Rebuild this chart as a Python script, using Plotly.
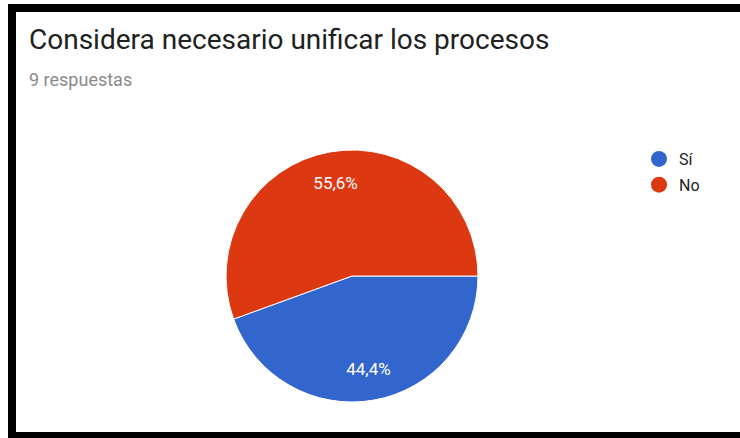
import plotly.graph_objects as go

labels = ["Sí", "No"]
values = [4, 5]
colors = ["#3366cc", "#dc3912"]
title_text = "Considera necesario unificar los procesos"
subtitle_text = "9 respuestas"

W, H = 740, 438
dom = dict(x=[226 / W, 478 / W], y=[1 - 402 / H, 1 - 150 / H])

fig = go.Figure()
# coloured pie (no text)
fig.add_trace(go.Pie(
    labels=labels, values=values, sort=False, direction="clockwise", rotation=90,
    marker=dict(colors=colors, line=dict(color="white", width=1)),
    textinfo="none", showlegend=False, hoverinfo="skip", domain=dom,
))
# transparent ring used only to position the percentage labels
fig.add_trace(go.Pie(
    labels=labels, values=values, sort=False, direction="clockwise", rotation=90,
    hole=0.5,
    marker=dict(colors=["rgba(0,0,0,0)"] * len(values), line=dict(width=0)),
    texttemplate="%{percent:.1%}", textposition="inside",
    insidetextorientation="horizontal",
    textfont=dict(family="Roboto, Arial", size=17, color="white"),
    showlegend=False, hoverinfo="skip", domain=dom,
))
for lab, col in zip(labels, colors):
    fig.add_trace(go.Scatter(
        x=[None], y=[None], mode="markers", name=lab, legendgroup=lab,
        marker=dict(symbol="circle", size=16, color=col),
    ))

shapes = []
def px_rect(x0, y0, x1, y1, color):
    shapes.append(dict(type="rect", xref="paper", yref="paper",
                       x0=x0 / W, x1=x1 / W, y0=1 - y1 / H, y1=1 - y0 / H,
                       fillcolor=color, line=dict(width=0), layer="above"))
px_rect(8, 4, 16, 438, "black")
px_rect(8, 4, 740, 12, "black")
px_rect(8, 432, 740, 438, "black")

fig.update_layout(
    width=W, height=H, margin=dict(l=0, r=0, t=0, b=0),
    paper_bgcolor="white", plot_bgcolor="white",
    separators=",.",
    xaxis=dict(visible=False), yaxis=dict(visible=False),
    shapes=shapes,
    legend=dict(x=639 / W, y=1 - 142 / H, xanchor="left", yanchor="top",
                font=dict(family="Roboto, Arial", size=16, color="#222222"),
                traceorder="grouped", tracegroupgap=2, itemwidth=30),
    annotations=[
        dict(text=title_text, xref="paper", yref="paper", x=27 / W, y=1 - 39 / H,
             xanchor="left", yanchor="middle", showarrow=False,
             font=dict(family="Roboto", size=28, color="#212121")),
        dict(text=subtitle_text, xref="paper", yref="paper", x=27 / W, y=1 - 79 / H,
             xanchor="left", yanchor="middle", showarrow=False,
             font=dict(family="Roboto", size=18, color="#8a8a8a")),
    ],
)
fig.write_html("out.html")
